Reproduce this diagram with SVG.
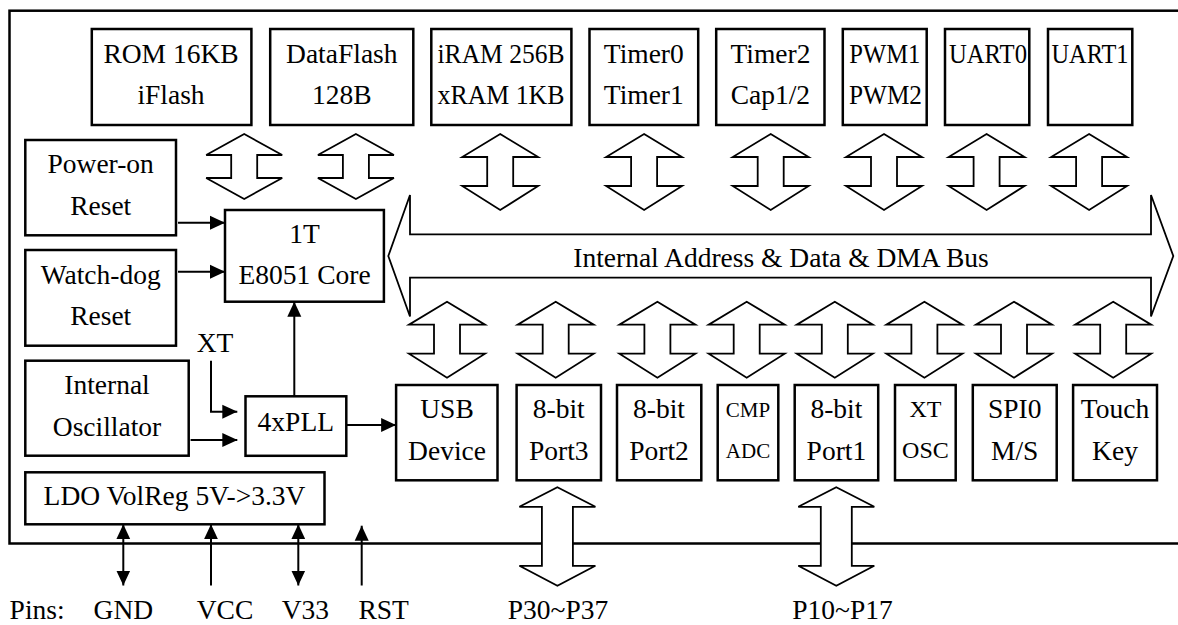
<svg xmlns="http://www.w3.org/2000/svg" width="1178" height="625" viewBox="0 0 1178 625">
<style>
  .box { fill: #fff; stroke: #000; stroke-width: 2.5; }
  .frame { fill: none; stroke: #000; stroke-width: 2.5; }
  .t { font-family: "Liberation Serif", "Times New Roman", serif; font-size: 27.5px; fill: #000; text-anchor: middle; }
  .ts { font-size: 21px; }
  .tm { font-size: 24px; }
  .tl { text-anchor: start; }
  .dbl { fill: #fff; stroke: #000; stroke-width: 1.8; stroke-linejoin: miter; }
  .ln { fill: none; stroke: #000; stroke-width: 2; }
</style>
<defs>
  <marker id="ah" markerUnits="userSpaceOnUse" markerWidth="15" markerHeight="15" refX="15" refY="7" orient="auto-start-reverse" viewBox="0 0 15 14">
    <path d="M0,0 L15,7 L0,14 Z" fill="#000"/>
  </marker>
  <path id="dA" d="M0,0 L38,21 L13,21 L13,44 L38,44 L0,65 L-38,44 L-13,44 L-13,21 L-38,21 Z"/>
  <path id="dB" d="M0,0 L38,23 L13,23 L13,52 L38,52 L0,76 L-38,52 L-13,52 L-13,23 L-38,23 Z"/>
  <path id="dD" d="M0,0 L38,19.5 L15.5,19.5 L15.5,78.5 L38,78.5 L0,98.5 L-38,78.5 L-15.5,78.5 L-15.5,19.5 L-38,19.5 Z"/>
</defs>
<rect width="1178" height="625" fill="#fff"/>
<rect class="frame" x="9.5" y="10.7" width="1190" height="532.8"/>

<g id="rom"><rect class="box" x="91.8" y="29" width="159.6" height="96"/>
  <text class="t" x="171" y="63.3">ROM 16KB</text><text class="t" x="171" y="104.3">iFlash</text></g>
<g id="dataflash"><rect class="box" x="270.2" y="29" width="143.1" height="96"/>
  <text class="t" x="341.8" y="63.3">DataFlash</text><text class="t" x="341.8" y="104.3">128B</text></g>
<g id="ram"><rect class="box" x="431.3" y="29" width="140.1" height="96"/>
  <text class="t" x="501" y="63.3" textLength="127" lengthAdjust="spacingAndGlyphs">iRAM 256B</text><text class="t" x="501" y="104.3" textLength="127" lengthAdjust="spacingAndGlyphs">xRAM 1KB</text></g>
<g id="timer01"><rect class="box" x="589.5" y="29" width="108.7" height="96"/>
  <text class="t" x="643.8" y="63.3">Timer0</text><text class="t" x="643.8" y="104.3">Timer1</text></g>
<g id="timer2"><rect class="box" x="716.2" y="29" width="108.3" height="96"/>
  <text class="t" x="770.4" y="63.3">Timer2</text><text class="t" x="770.4" y="104.3">Cap1/2</text></g>
<g id="pwm"><rect class="box" x="842.8" y="29" width="83.9" height="96"/>
  <text class="t" x="884.8" y="63.3" textLength="71" lengthAdjust="spacingAndGlyphs">PWM1</text><text class="t" x="885.5" y="104.3" textLength="73" lengthAdjust="spacingAndGlyphs">PWM2</text></g>
<g id="uart0"><rect class="box" x="945" y="29" width="84.3" height="96"/>
  <text class="t" x="988" y="63.3" textLength="78" lengthAdjust="spacingAndGlyphs">UART0</text></g>
<g id="uart1"><rect class="box" x="1048" y="29" width="84.3" height="96"/>
  <text class="t" x="1090" y="63.3" textLength="77" lengthAdjust="spacingAndGlyphs">UART1</text></g>

<g id="poweron"><rect class="box" x="25.3" y="140" width="150.7" height="95.3"/>
  <text class="t" x="100.7" y="173">Power-on</text><text class="t" x="100.7" y="215">Reset</text></g>
<g id="watchdog"><rect class="box" x="25.3" y="250" width="150.7" height="95.7"/>
  <text class="t" x="100.7" y="284">Watch-dog</text><text class="t" x="100.7" y="325">Reset</text></g>
<g id="core"><rect class="box" x="225" y="210" width="158.9" height="91.7"/>
  <text class="t" x="304.6" y="243">1T</text><text class="t" x="304.6" y="284">E8051 Core</text></g>
<g id="osc"><rect class="box" x="25.3" y="360.7" width="163.4" height="95"/>
  <text class="t" x="107" y="394.3">Internal</text><text class="t" x="107" y="436">Oscillator</text></g>
<g id="pll"><rect class="box" x="245.5" y="396.3" width="100.8" height="59.5"/>
  <text class="t" x="295.8" y="431">4xPLL</text></g>
<g id="ldo"><rect class="box" x="25.3" y="472.3" width="299.2" height="52"/>
  <text class="t" x="174.5" y="505">LDO VolReg 5V-&gt;3.3V</text></g>

<g id="usb"><rect class="box" x="396.1" y="385" width="101.4" height="95.3"/>
  <text class="t" x="447" y="418.3">USB</text><text class="t" x="447" y="460">Device</text></g>
<g id="port3"><rect class="box" x="516.6" y="385" width="84.4" height="95.3"/>
  <text class="t" x="558.8" y="418.3">8-bit</text><text class="t" x="558.8" y="460">Port3</text></g>
<g id="port2"><rect class="box" x="617" y="385" width="84.3" height="95.3"/>
  <text class="t" x="659" y="418.3">8-bit</text><text class="t" x="659" y="460">Port2</text></g>
<g id="cmpadc"><rect class="box" x="717.7" y="385" width="60.6" height="95.3"/>
  <text class="t ts" x="748" y="417.3">CMP</text><text class="t ts" x="748" y="457.7">ADC</text></g>
<g id="port1"><rect class="box" x="794.7" y="385" width="83.5" height="95.3"/>
  <text class="t" x="836.4" y="418.3">8-bit</text><text class="t" x="836.4" y="460">Port1</text></g>
<g id="xtosc"><rect class="box" x="895" y="385" width="60.7" height="95.3"/>
  <text class="t tm" x="925.4" y="417.3">XT</text><text class="t tm" x="925.4" y="457.7">OSC</text></g>
<g id="spi0"><rect class="box" x="972.8" y="385" width="83.9" height="95.3"/>
  <text class="t" x="1014.7" y="418.3">SPI0</text><text class="t" x="1014.7" y="460">M/S</text></g>
<g id="touch"><rect class="box" x="1073.1" y="385" width="83.9" height="95.3"/>
  <text class="t" x="1115" y="418.3">Touch</text><text class="t" x="1115" y="460">Key</text></g>

<g id="connectors">
  <path class="dbl" d="M388.3,256 L410,195 L410,234.3 L1151,234.3 L1151,195 L1173.3,256 L1151,316.5 L1151,277.7 L410,277.7 L410,316.5 Z"/>
  <use href="#dA" class="dbl" x="244.2" y="134"/>
  <use href="#dA" class="dbl" x="355.9" y="134"/>
  <use href="#dB" class="dbl" x="500.2" y="134"/>
  <use href="#dB" class="dbl" x="644.1" y="134"/>
  <use href="#dB" class="dbl" x="770.7" y="134"/>
  <use href="#dB" class="dbl" x="884" y="134"/>
  <use href="#dB" class="dbl" x="986.6" y="134"/>
  <use href="#dB" class="dbl" x="1089.1" y="134"/>
  <use href="#dB" class="dbl" x="447" y="301.7"/>
  <use href="#dB" class="dbl" x="555.7" y="301.7"/>
  <use href="#dB" class="dbl" x="657.4" y="301.7"/>
  <use href="#dB" class="dbl" x="746.7" y="301.7"/>
  <use href="#dB" class="dbl" x="834.8" y="301.7"/>
  <use href="#dB" class="dbl" x="924.4" y="301.7"/>
  <use href="#dB" class="dbl" x="1014" y="301.7"/>
  <use href="#dB" class="dbl" x="1113.2" y="301.7"/>
  <use href="#dD" class="dbl" x="557.4" y="487.3"/>
  <use href="#dD" class="dbl" x="836.3" y="487.3"/>
  <line class="ln" x1="178" y1="222.7" x2="225" y2="222.7" marker-end="url(#ah)"/>
  <line class="ln" x1="178" y1="271.7" x2="225" y2="271.7" marker-end="url(#ah)"/>
  <line class="ln" x1="294.3" y1="396.3" x2="294.3" y2="301.7" marker-end="url(#ah)"/>
  <polyline class="ln" points="211,360.7 211,411.7 237.3,411.7" marker-end="url(#ah)"/>
  <line class="ln" x1="190.6" y1="440" x2="237.3" y2="440" marker-end="url(#ah)"/>
  <line class="ln" x1="346.3" y1="425" x2="396.1" y2="425" marker-end="url(#ah)"/>
  <line class="ln" x1="123.3" y1="524.3" x2="123.3" y2="585.5" marker-start="url(#ah)" marker-end="url(#ah)"/>
  <line class="ln" x1="211" y1="585.5" x2="211" y2="524.3" marker-end="url(#ah)"/>
  <line class="ln" x1="298.3" y1="524.3" x2="298.3" y2="585.5" marker-start="url(#ah)" marker-end="url(#ah)"/>
  <line class="ln" x1="361.7" y1="585.5" x2="361.7" y2="525.7" marker-end="url(#ah)"/>
</g>

<g id="labels">
  <text class="t" x="781" y="266.7">Internal Address &amp; Data &amp; DMA Bus</text>
  <text class="t" x="215" y="351.7">XT</text>
  <text class="t tl" x="9.6" y="618.5">Pins:</text>
  <text class="t" x="123.4" y="618.5">GND</text>
  <text class="t" x="225" y="618.5">VCC</text>
  <text class="t" x="305.4" y="618.5">V33</text>
  <text class="t" x="383.7" y="618.5">RST</text>
  <text class="t" x="558" y="618.5">P30~P37</text>
  <text class="t" x="842.5" y="618.5">P10~P17</text>
</g>
</svg>
